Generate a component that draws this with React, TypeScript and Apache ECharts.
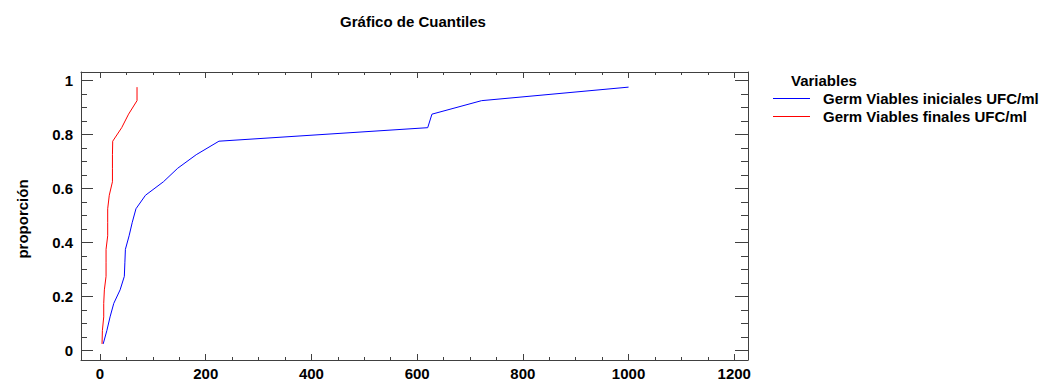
import React, { useEffect, useRef } from "react";
import * as echarts from "echarts";

// Plotting positions (proportion) shared by both variables
const proportions = [
  0.025, 0.075, 0.125, 0.175, 0.225, 0.275, 0.325, 0.375, 0.425, 0.475,
  0.525, 0.575, 0.625, 0.675, 0.725, 0.775, 0.825, 0.875, 0.925, 0.975,
];

// Sorted observations, UFC/ml
const inicialesUFC = [
  6, 13, 19, 26, 38, 46, 47, 48, 55, 61,
  68, 86, 120, 147, 182, 225, 620, 628, 722, 1000,
];
const finalesUFC = [
  3.8, 4.5, 7, 7, 8.2, 11.4, 11.4, 11.4, 14.5, 14.5,
  14.5, 17.5, 23.5, 23.5, 23.5, 24, 41, 54, 70, 70,
];

const seriesNames = ["Germ Viables iniciales UFC/ml", "Germ Viables finales UFC/ml"];

const xMajorTicks = [0, 200, 400, 600, 800, 1000, 1200];
const xMinorTicks = [
  50, 100, 150, 250, 300, 350, 450, 500, 550, 650, 700, 750,
  850, 900, 950, 1050, 1100, 1150,
];
const yMajorTicks = [0, 0.2, 0.4, 0.6, 0.8, 1];
const yMinorTicks = [
  0.05, 0.1, 0.15, 0.25, 0.3, 0.35, 0.45, 0.5, 0.55, 0.65, 0.7, 0.75,
  0.85, 0.9, 0.95,
];

const FONT = "'Liberation Sans', Arial, sans-serif";
const AXIS_COLOR = "#404040";
const X_MIN = -36;
const X_MAX = 1226;
const Y_MIN = -0.0345;
const Y_MAX = 1.031;

const gridBox = { left: 81, top: 72, width: 667, height: 288 };

const plainNumber = (v: number) => String(Math.round(v * 1000) / 1000);

function xAxisDef(gridIndex: number, position: "bottom" | "top", ticks: number[], len: number, withLabels: boolean, withLine: boolean) {
  return {
    type: "value",
    gridIndex,
    position,
    min: X_MIN,
    max: X_MAX,
    splitLine: { show: false },
    axisLine: { show: withLine, onZero: false, lineStyle: { color: AXIS_COLOR, width: 1 } },
    axisTick: { show: true, inside: true, length: len, customValues: ticks, lineStyle: { color: AXIS_COLOR, width: 1 } },
    axisLabel: {
      show: withLabels,
      customValues: ticks,
      formatter: plainNumber,
      margin: 6,
      color: "#000",
      fontFamily: FONT,
      fontSize: 15,
      fontWeight: "bold",
    },
  };
}

function yAxisDef(gridIndex: number, position: "left" | "right", ticks: number[], len: number, withLabels: boolean, withLine: boolean) {
  return {
    type: "value",
    gridIndex,
    position,
    min: Y_MIN,
    max: Y_MAX,
    splitLine: { show: false },
    axisLine: { show: withLine, onZero: false, lineStyle: { color: AXIS_COLOR, width: 1 } },
    axisTick: { show: true, inside: true, length: len, customValues: ticks, lineStyle: { color: AXIS_COLOR, width: 1 } },
    axisLabel: {
      show: withLabels,
      customValues: ticks,
      formatter: plainNumber,
      margin: 8,
      color: "#000",
      fontFamily: FONT,
      fontSize: 15,
      fontWeight: "bold",
    },
  };
}

export default function App() {
  const ref = useRef<HTMLDivElement>(null);

  useEffect(() => {
    if (!ref.current) return;
    const chart = echarts.init(ref.current, undefined, { renderer: "svg" });

    const option = {
      animation: false,
      backgroundColor: "#ffffff",
      textStyle: { fontFamily: FONT },
      grid: [
        { ...gridBox, containLabel: false },
        { ...gridBox, containLabel: false },
      ],
      xAxis: [
        xAxisDef(0, "bottom", xMajorTicks, 6, true, true),
        xAxisDef(0, "top", xMajorTicks, 6, false, true),
        xAxisDef(1, "bottom", xMinorTicks, 3, false, false),
        xAxisDef(1, "top", xMinorTicks, 3, false, false),
      ],
      yAxis: [
        yAxisDef(0, "left", yMajorTicks, 12, true, true),
        yAxisDef(0, "right", yMajorTicks, 13, false, true),
        yAxisDef(1, "left", yMinorTicks, 6, false, false),
        yAxisDef(1, "right", yMinorTicks, 7, false, false),
      ],
      legend: {
        data: seriesNames,
        orient: "vertical",
        left: 773,
        top: 91,
        padding: 0,
        icon: "rect",
        itemWidth: 37,
        itemHeight: 1,
        itemGap: 3,
        selectedMode: false,
        textStyle: {
          color: "#000",
          fontFamily: FONT,
          fontSize: 15,
          fontWeight: "bold",
          padding: [0, 0, 0, 8],
        },
      },
      graphic: [
        {
          type: "text",
          x: 413,
          y: 21,
          style: {
            text: "Gráfico de Cuantiles",
            fill: "#000",
            font: `bold 15px ${FONT}`,
            align: "center",
            verticalAlign: "middle",
          },
        },
        {
          type: "text",
          x: 22,
          y: 219,
          rotation: Math.PI / 2,
          style: {
            text: "proporción",
            fill: "#000",
            font: `bold 15px ${FONT}`,
            align: "center",
            verticalAlign: "middle",
          },
        },
        {
          type: "text",
          x: 791,
          y: 80,
          style: {
            text: "Variables",
            fill: "#000",
            font: `bold 15px ${FONT}`,
            align: "left",
            verticalAlign: "middle",
          },
        },
      ],
      series: [
        {
          name: seriesNames[0],
          type: "line",
          xAxisIndex: 0,
          yAxisIndex: 0,
          symbol: "none",
          color: "#0000ff",
          lineStyle: { color: "#0000ff", width: 1 },
          data: inicialesUFC.map((v, i) => [v, proportions[i]]),
        },
        {
          name: seriesNames[1],
          type: "line",
          xAxisIndex: 0,
          yAxisIndex: 0,
          symbol: "none",
          color: "#ff0000",
          lineStyle: { color: "#ff0000", width: 1 },
          data: finalesUFC.map((v, i) => [v, proportions[i]]),
        },
      ],
    };

    chart.setOption(option as any);
    return () => chart.dispose();
  }, []);

  return (
    <div
      ref={ref}
      style={{ position: "fixed", left: 0, top: 0, width: 1052, height: 382, background: "#fff" }}
    />
  );
}
